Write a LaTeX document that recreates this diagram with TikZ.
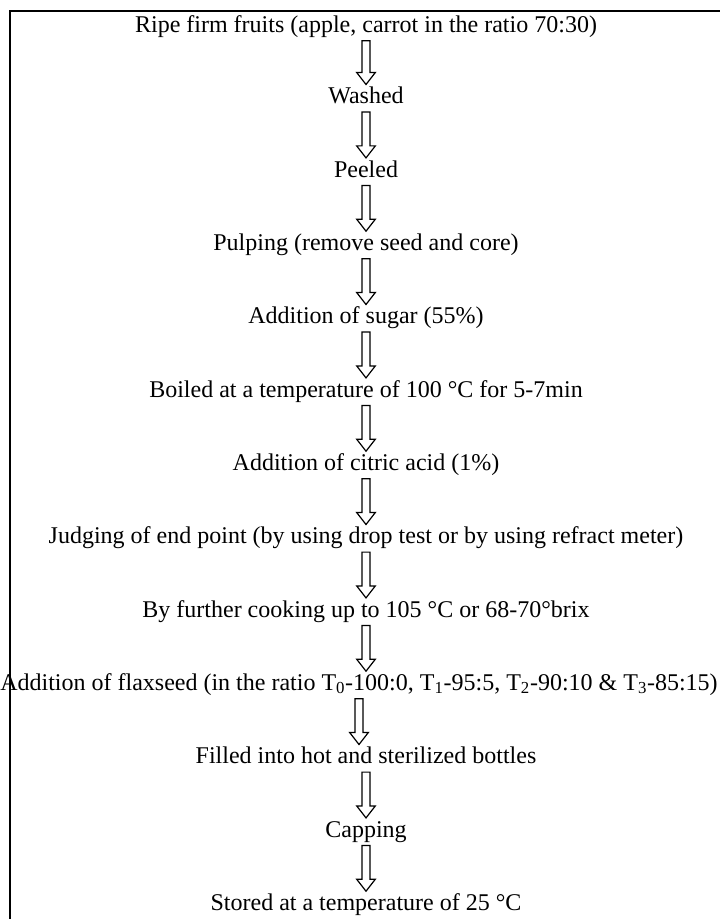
\documentclass[tikz,border=0pt]{standalone}
\usepackage{fontspec}
\setmainfont{Liberation Serif}
\usetikzlibrary{calc}
\newcommand\flowdown[2]{%
  \path (#1.south) ++(0,3) coordinate (ft) (#2.north) ++(0,-3) coordinate (fb);
  \draw[flowarrow] let \p1=(ft), \p2=(fb) in
    (\x1-3pt,\y1) -- (\x1+3pt,\y1) -- (\x1+3pt,\y2+9pt) -- (\x1+7pt,\y2+9pt)
    -- (\x1,\y2) -- (\x1-7pt,\y2+9pt) -- (\x1-3pt,\y2+9pt) -- cycle;}
\begin{document}
\begin{tikzpicture}[x=0.75pt,y=-0.75pt,
  stepnode/.style={inner sep=0pt, font=\fontsize{18}{21}\selectfont, text height=12pt, text depth=3.8pt, anchor=center},
  flowarrow/.style={draw=black, line width=0.9pt, fill=white},
  frameline/.style={line width=1.6pt}]
\useasboundingbox (0,0) rectangle (720,919);
\draw[frameline] (10,919) -- (10,11) -- (720,11);
\node[stepnode] (s1) at (366,27) {Ripe firm fruits (apple, carrot in the ratio 70:30)};
\node[stepnode] (s2) at (366,98.3) {Washed};
\node[stepnode] (s3) at (366,171.7) {Peeled};
\node[stepnode] (s4) at (366,245) {Pulping (remove seed and core)};
\node[stepnode] (s5) at (366,318.3) {Addition of sugar (55\%)};
\node[stepnode] (s6) at (366,391.7) {Boiled at a temperature of 100 °C for 5-7min};
\node[stepnode] (s7) at (366,465) {Addition of citric acid (1\%)};
\node[stepnode] (s8) at (366,538.3) {Judging of end point (by using drop test or by using refract meter)};
\node[stepnode] (s9) at (366,611.7) {By further cooking up to 105 °C or 68-70°brix};
\node[stepnode] (s10) at (359,685) {Addition of flaxseed (in the ratio T\textsubscript{0}-100:0, T\textsubscript{1}-95:5, T\textsubscript{2}-90:10 \& T\textsubscript{3}-85:15)};
\node[stepnode] (s11) at (366,758.3) {Filled into hot and sterilized bottles};
\node[stepnode] (s12) at (366,831.7) {Capping};
\node[stepnode] (s13) at (366,905) {Stored at a temperature of 25 °C};
\flowdown{s1}{s2}
\flowdown{s2}{s3}
\flowdown{s3}{s4}
\flowdown{s4}{s5}
\flowdown{s5}{s6}
\flowdown{s6}{s7}
\flowdown{s7}{s8}
\flowdown{s8}{s9}
\flowdown{s9}{s10}
\flowdown{s10}{s11}
\flowdown{s11}{s12}
\flowdown{s12}{s13}
\end{tikzpicture}
\end{document}
